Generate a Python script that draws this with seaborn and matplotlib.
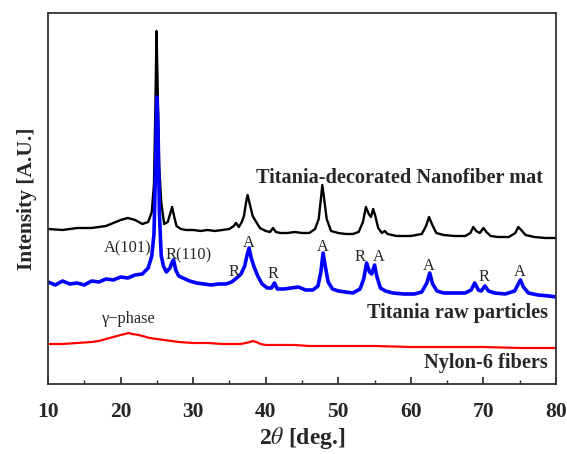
import seaborn as sns
import matplotlib.pyplot as plt
from matplotlib.ticker import MultipleLocator

# 2theta / intensity (arbitrary units)
mat_x = [10, 12, 14, 16, 18, 19, 20, 21, 22, 23, 23.8, 24.3, 24.6, 24.8, 24.95, 25.1, 25.3, 25.6,
         26.0, 26.5, 26.9, 27.1, 27.3, 27.7, 28.3, 29, 30, 31, 32, 33, 34, 35, 35.6, 35.9, 36.3,
         36.7, 37.0, 37.3, 37.5, 37.8, 38.2, 38.6, 39.2, 40, 40.6, 41.0, 41.4, 42, 43, 44, 45, 46,
         46.8, 47.3, 47.6, 47.8, 48.0, 48.4, 49, 50, 51, 52, 52.8, 53.4, 53.8, 54.2, 54.5, 54.8,
         55.1, 55.5, 56.0, 56.4, 56.8, 58, 60, 61.5, 62.1, 62.5, 62.9, 63.5, 64.5, 66, 67.5, 68.2,
         68.6, 69.0, 69.5, 70.0, 70.4, 71, 72, 73.5, 74.4, 74.8, 75.2, 75.8, 77, 78.5, 80]
mat_y = [155, 154, 156, 156, 158, 161, 164, 166, 164, 160, 162, 172, 200, 280, 353, 300, 220, 182,
         160, 162, 172, 177, 170, 158, 155, 154, 154, 153, 154, 153, 154, 155, 158, 161, 157,
         162, 168, 182, 189, 180, 168, 163, 156, 153, 152, 156, 152, 151, 151, 152, 151, 151,
         155, 165, 185, 199, 188, 165, 153, 151, 150, 150, 152, 162, 177, 170, 167, 175,
         168, 156, 151, 153, 150, 148, 148, 150, 158, 167, 160, 151, 149, 148, 148, 151,
         157, 153, 151, 156, 152, 148, 147, 147, 151, 157, 154, 149, 147, 146, 146]

raw_x = [10, 11, 12, 13, 14, 15, 16, 17, 18, 19, 20, 21, 22, 23, 23.8, 24.3, 24.6, 24.8, 25.0,
         25.15, 25.35, 25.6, 25.9, 26.3, 26.8, 27.1, 27.3, 27.6, 28.0, 28.6, 29.5, 30.5, 31.5,
         32.5, 33.5, 34.5, 35.3, 36.0, 36.6, 37.1, 37.4, 37.7, 38.0, 38.4, 38.9, 39.5, 40.2,
         40.8, 41.2, 41.6, 42.5, 43.5, 44.5, 45.5, 46.5, 47.2, 47.6, 47.9, 48.2, 48.6, 49.2, 50,
         51, 52, 53.0, 53.5, 53.9, 54.3, 54.6, 55.0, 55.3, 55.8, 56.5, 57.5, 59, 60.5, 61.5,
         62.2, 62.6, 63.0, 63.6, 64.5, 66, 67.5, 68.3, 68.8, 69.3, 69.7, 70.2, 70.7, 71.5, 73,
         74.3, 74.8, 75.1, 75.5, 76.2, 77.5, 79, 80]
raw_y = [102, 99, 103, 100, 101, 99, 103, 102, 105, 104, 107, 106, 109, 110, 116, 128, 150, 210, 287,
         260, 170, 128, 118, 112, 116, 122, 124, 114, 108, 106, 103, 101, 100,
         99, 100, 100, 102, 106, 110, 118, 128, 136, 126, 117, 108, 100, 96,
         96, 101, 95, 95, 96, 97, 94, 94, 98, 112, 131, 118, 102, 95, 93,
         92, 91, 95, 105, 121, 112, 110, 119, 108, 96, 93, 91, 90, 90, 92,
         101, 111, 100, 93, 91, 91, 91, 94, 101, 94, 93, 98, 93, 91, 90,
         93, 100, 104, 97, 91, 89, 88, 87]

nylon_x = [10, 12, 14, 16, 17, 18, 19, 20, 20.6, 21.1, 21.6, 22.5, 24, 26, 28, 30, 32, 34, 35.5,
           36.5, 37.3, 37.8, 38.2, 38.7, 39.3, 40, 42, 44, 46, 50, 55, 60, 65, 70, 75, 80]
nylon_y = [40, 40, 41, 42, 43, 45, 47, 49, 50, 51, 50, 49, 46, 44, 42, 41, 41, 40, 40,
           40, 41, 42, 43, 42, 40, 39, 39, 39, 38, 38, 38, 37, 37, 37, 36, 36]

peak_labels = ['A(101)', 'R(110)', 'R', 'A', 'R', 'A', 'R', 'A', 'A', 'R', 'A']
peak_x = [21.0, 29.4, 35.6, 37.7, 41.0, 47.8, 53.0, 55.6, 62.5, 70.1, 75.0]
peak_y = [136, 129, 112, 141, 110, 137, 127, 127, 118, 107, 112]

sns.set_style('ticks')
plt.rcParams['font.family'] = ['Liberation Serif', 'DejaVu Serif']
plt.rcParams['mathtext.fontset'] = 'stix'

fig = plt.figure(figsize=(5.67, 4.54), dpi=100)
ax = fig.add_axes([0.0847, 0.1542, 0.8959, 0.8172])

sns.lineplot(x=mat_x, y=mat_y, color='black', lw=1.7, ax=ax)
sns.lineplot(x=raw_x, y=raw_y, color='#0000ff', lw=2.6, ax=ax)
sns.lineplot(x=nylon_x, y=nylon_y, color='#ff0000', lw=1.6, ax=ax)

for lab, px, py in zip(peak_labels, peak_x, peak_y):
    ax.text(px, py, lab, ha='center', va='center', fontsize=11.8)
ax.text(21.0, 65, 'γ−phase', ha='center', va='center', fontsize=11.8)

ax.text(78.2, 206, 'Titania-decorated Nanofiber mat', ha='right', va='center',
        fontsize=14.6, fontweight='bold')
ax.text(78.9, 71, 'Titania raw particles', ha='right', va='center',
        fontsize=14.6, fontweight='bold')
ax.text(78.9, 21, 'Nylon-6 fibers', ha='right', va='center',
        fontsize=14.6, fontweight='bold')

ax.set_xlim(10, 80)
ax.set_ylim(0, 371)
ax.set_yticks([])
ax.xaxis.set_major_locator(MultipleLocator(10))
ax.xaxis.set_minor_locator(MultipleLocator(5))
ax.tick_params(axis='x', which='major', direction='in', length=5, width=1.2,
               labelsize=15.5, pad=13)
ax.tick_params(axis='x', which='minor', direction='in', length=3, width=1.0)
for t in ax.get_xticklabels():
    t.set_fontweight('bold')
for s in ax.spines.values():
    s.set_linewidth(1.3)
    s.set_color('#333333')

ax.set_xlabel(r'2$\theta$ [deg.]', fontsize=17, fontweight='bold', labelpad=2)
ax.set_ylabel('Intensity [A.U.]', fontsize=15.5, fontweight='bold', labelpad=8)

plt.savefig('out.png', dpi=100)
